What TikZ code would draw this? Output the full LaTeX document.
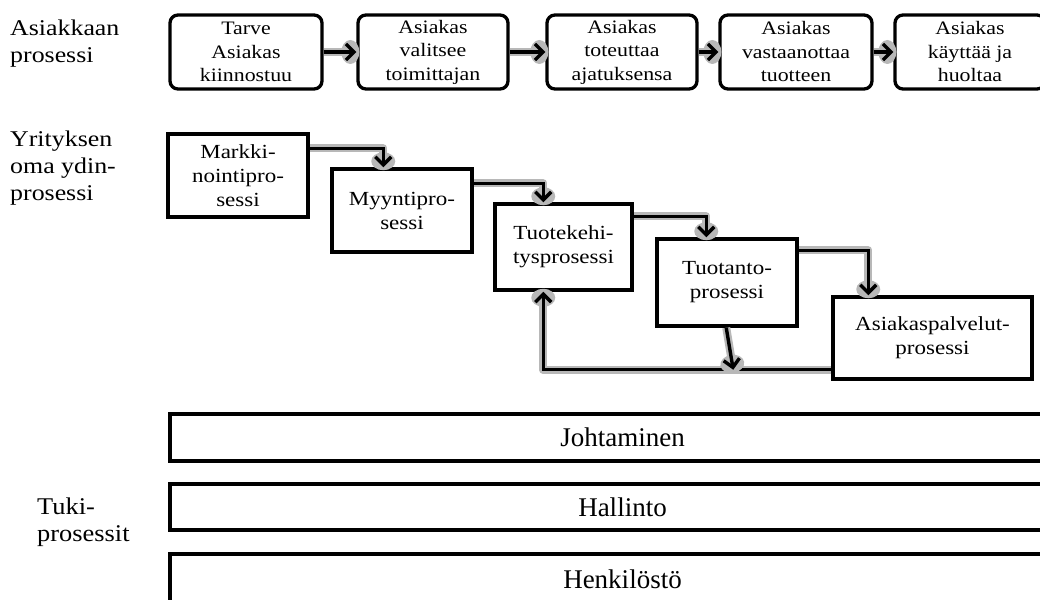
\documentclass[tikz,border=0pt]{standalone}
\usepackage{fontspec}
\setmainfont{Liberation Serif}
\newfontfamily\widefont{Liberation Serif}[FakeStretch=1.15]
\newfontfamily\midfont{Liberation Serif}[FakeStretch=1.1]
\usetikzlibrary{arrows.meta,calc,decorations.markings}

% a connector: soft grey underlay first, then the black arrow on top
\newcommand\flowpath[1]{\draw[halo] #1; \draw[flow] #1;}

\begin{document}
\begin{tikzpicture}[x=1pt,y=-1pt,
  topbox/.style={draw, line width=3.3pt, rounded corners=8pt, minimum width=150pt,
    minimum height=74pt, inner sep=0pt, align=center,
    font=\widefont\fontsize{19}{23.5}\selectfont},
  procbox/.style={draw, line width=3.5pt, minimum width=140pt, minimum height=84pt,
    inner sep=0pt, align=center, font=\widefont\fontsize{20}{24}\selectfont},
  supbar/.style={draw, line width=3.5pt, inner sep=0pt, minimum width=905pt,
    font=\fontsize{27}{30}\selectfont},
  sidelabel/.style={anchor=north west, inner sep=0pt, align=left,
    font=\widefont\fontsize{22.5}{27}\selectfont},
  halo/.style={draw=black!28, line width=8pt, line join=round,
    postaction={decorate},
    decoration={markings, mark=at position 1 with
      {\fill[black!28] (-6pt,0pt) ellipse [x radius=9pt, y radius=12pt];}}},
  flow/.style={draw=black, line width=3.4pt, -{Straight Barb[length=8pt,width=16pt]}},
]
\clip (0,0) rectangle (1040,599);
\fill[white] (0,0) rectangle (1040,599);

% side labels
\node[sidelabel] (lcust) at (10,20) {Asiakkaan\\prosessi};
\node[sidelabel] (lcore) at (10,131) {Yrityksen\\oma ydin-\\prosessi};
\node[sidelabel, font=\midfont\fontsize{24}{27}\selectfont] (lsup) at (37,498) {Tuki-\\prosessit};

% customer process
\node[topbox, minimum width=152pt] (c1) at (246,52) {Tarve\\Asiakas\\kiinnostuu};
\node[topbox] (c2) at (433,52) {Asiakas\\valitsee\\toimittajan};
\node[topbox] (c3) at (622,52) {Asiakas\\toteuttaa\\ajatuksensa};
\node[topbox, minimum width=152pt] (c4) at (796,52) {Asiakas\\vastaanottaa\\tuotteen};
\node[topbox] (c5) at (970,52) {Asiakas\\käyttää ja\\huoltaa};

\flowpath{(c1) -- (c2)}
\flowpath{(c2) -- (c3)}
\flowpath{(c3) -- (c4)}
\flowpath{(c4) -- (c5)}

% core process
\node[procbox, minimum height=83pt] (mark) at (238,175.5) {Markki-\\nointipro-\\sessi};
\node[procbox, minimum height=83pt] (myyn) at (402,210.5) {Myyntipro-\\sessi};
\node[procbox, minimum width=137pt, minimum height=86pt] (kehi) at (563.5,247) {Tuotekehi-\\tysprosessi};
\node[procbox, minimum height=87pt] (tuot) at (727,282.5) {Tuotanto-\\prosessi};
\node[procbox, minimum width=199pt, minimum height=82pt] (asp) at (932.5,338) {Asiakaspalvelut-\\prosessi};

\flowpath{($(mark.north east)+(0,16)$) -| ($(myyn.north west)+(53,0)$)}
\flowpath{($(myyn.north east)+(0,16)$) -| ($(kehi.north west)+(50,0)$)}
\flowpath{($(kehi.north east)+(0,14)$) -| ($(tuot.north west)+(51,0)$)}
\flowpath{($(tuot.north east)+(0,13)$) -| ($(asp.north west)+(37,0)$)}

% feedback
\coordinate (fb) at ($(asp.south west)+(-98,-11)$);
\flowpath{($(asp.south west)+(0,-11)$) -| ($(kehi.south west)+(50,0)$)}
\flowpath{($(tuot.south west)+(71,0)$) -- (fb)}

% support processes
\node[supbar, minimum height=47pt] (lead) at (622.5,437.5) {Johtaminen};
\node[supbar, minimum height=46pt] (adm) at (622.5,507) {Hallinto};
\node[supbar, minimum height=50pt] (hr) at (622.5,579) {Henkilöstö};
\end{tikzpicture}
\end{document}
